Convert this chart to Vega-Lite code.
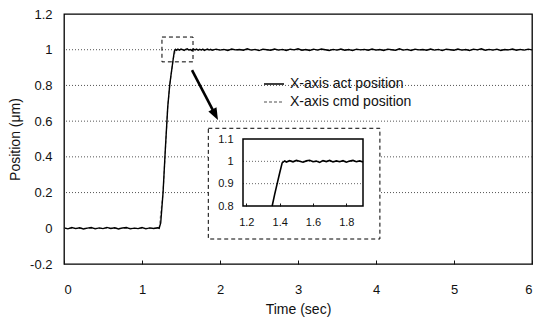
{
  "$schema": "https://vega.github.io/schema/vega-lite/v6.json",
  "width": 468,
  "height": 250,
  "autosize": {"type": "none"},
  "padding": {"left": 64, "top": 14, "right": 3, "bottom": 56},
  "background": "white",
  "config": {
    "font": "Liberation Sans",
    "view": {"stroke": "black", "strokeWidth": 1.3},
    "axis": {"domain": false, "labelColor": "#111", "titleColor": "#111", "titleFontWeight": "normal", "tickColor": "#111", "labelOverlap": false, "tickCount": 20}
  },
  "datasets": {
    "act": [
      {"t": 0, "pos": 0.002}, {"t": 0.05, "pos": -0.003}, {"t": 0.1, "pos": 0.004}, {"t": 0.15, "pos": -0.002},
      {"t": 0.2, "pos": 0.003}, {"t": 0.25, "pos": -0.004}, {"t": 0.3, "pos": 0.001}, {"t": 0.35, "pos": 0.004},
      {"t": 0.4, "pos": -0.003}, {"t": 0.45, "pos": 0.002}, {"t": 0.5, "pos": -0.002}, {"t": 0.55, "pos": 0.005},
      {"t": 0.6, "pos": -0.001}, {"t": 0.65, "pos": 0.003}, {"t": 0.7, "pos": -0.004}, {"t": 0.75, "pos": 0.002},
      {"t": 0.8, "pos": 0.004}, {"t": 0.85, "pos": -0.003}, {"t": 0.9, "pos": 0.001}, {"t": 0.95, "pos": -0.002},
      {"t": 1.0, "pos": 0.004}, {"t": 1.05, "pos": -0.003}, {"t": 1.1, "pos": 0.002}, {"t": 1.15, "pos": -0.001},
      {"t": 1.2, "pos": 0.003},
      {"t": 1.22, "pos": 0.0}, {"t": 1.24, "pos": 0.03}, {"t": 1.27, "pos": 0.2}, {"t": 1.3, "pos": 0.45},
      {"t": 1.33, "pos": 0.68}, {"t": 1.355, "pos": 0.8}, {"t": 1.37, "pos": 0.852}, {"t": 1.385, "pos": 0.9},
      {"t": 1.4, "pos": 0.948}, {"t": 1.415, "pos": 0.993}, {"t": 1.43, "pos": 1.002},
      {"t": 1.44, "pos": 0.997}, {"t": 1.46, "pos": 1.003}, {"t": 1.48, "pos": 0.998}, {"t": 1.5, "pos": 1.004},
      {"t": 1.52, "pos": 1.0}, {"t": 1.54, "pos": 0.996}, {"t": 1.56, "pos": 1.002}, {"t": 1.58, "pos": 1.005},
      {"t": 1.6, "pos": 0.998}, {"t": 1.62, "pos": 1.001}, {"t": 1.64, "pos": 0.995}, {"t": 1.66, "pos": 1.003},
      {"t": 1.68, "pos": 0.999}, {"t": 1.7, "pos": 1.004}, {"t": 1.72, "pos": 0.997}, {"t": 1.74, "pos": 1.002},
      {"t": 1.76, "pos": 0.998}, {"t": 1.78, "pos": 1.003}, {"t": 1.8, "pos": 0.996}, {"t": 1.82, "pos": 1.001},
      {"t": 1.84, "pos": 1.004}, {"t": 1.86, "pos": 0.998}, {"t": 1.88, "pos": 1.002}, {"t": 1.9, "pos": 0.997},
      {"t": 1.95, "pos": 1.003}, {"t": 2.0, "pos": 0.998}, {"t": 2.05, "pos": 1.002}, {"t": 2.1, "pos": 0.996},
      {"t": 2.15, "pos": 1.004}, {"t": 2.2, "pos": 0.999}, {"t": 2.25, "pos": 1.001}, {"t": 2.3, "pos": 0.997},
      {"t": 2.35, "pos": 1.005}, {"t": 2.4, "pos": 0.998}, {"t": 2.45, "pos": 1.002}, {"t": 2.5, "pos": 0.995},
      {"t": 2.55, "pos": 1.003}, {"t": 2.6, "pos": 1.0}, {"t": 2.65, "pos": 0.997}, {"t": 2.7, "pos": 1.004},
      {"t": 2.75, "pos": 0.998}, {"t": 2.8, "pos": 1.002}, {"t": 2.85, "pos": 0.996}, {"t": 2.9, "pos": 1.003},
      {"t": 2.95, "pos": 0.999}, {"t": 3.0, "pos": 1.005}, {"t": 3.05, "pos": 0.997}, {"t": 3.1, "pos": 1.001},
      {"t": 3.15, "pos": 0.996}, {"t": 3.2, "pos": 1.003}, {"t": 3.25, "pos": 0.998}, {"t": 3.3, "pos": 1.004},
      {"t": 3.35, "pos": 1.0}, {"t": 3.4, "pos": 0.996}, {"t": 3.45, "pos": 1.002}, {"t": 3.5, "pos": 0.998},
      {"t": 3.55, "pos": 1.004}, {"t": 3.6, "pos": 0.997}, {"t": 3.65, "pos": 1.001}, {"t": 3.7, "pos": 0.995},
      {"t": 3.75, "pos": 1.003}, {"t": 3.8, "pos": 0.999}, {"t": 3.85, "pos": 1.002}, {"t": 3.9, "pos": 0.997},
      {"t": 3.95, "pos": 1.004}, {"t": 4.0, "pos": 0.998}, {"t": 4.05, "pos": 1.001}, {"t": 4.1, "pos": 0.996},
      {"t": 4.15, "pos": 1.003}, {"t": 4.2, "pos": 1.0}, {"t": 4.25, "pos": 0.997}, {"t": 4.3, "pos": 1.005},
      {"t": 4.35, "pos": 0.998}, {"t": 4.4, "pos": 1.002}, {"t": 4.45, "pos": 0.996}, {"t": 4.5, "pos": 1.003},
      {"t": 4.55, "pos": 0.999}, {"t": 4.6, "pos": 1.001}, {"t": 4.65, "pos": 0.997}, {"t": 4.7, "pos": 1.004},
      {"t": 4.75, "pos": 0.998}, {"t": 4.8, "pos": 1.002}, {"t": 4.85, "pos": 0.995}, {"t": 4.9, "pos": 1.003},
      {"t": 4.95, "pos": 1.0}, {"t": 5.0, "pos": 0.997}, {"t": 5.05, "pos": 1.004}, {"t": 5.1, "pos": 0.998},
      {"t": 5.15, "pos": 1.001}, {"t": 5.2, "pos": 0.996}, {"t": 5.25, "pos": 1.003}, {"t": 5.3, "pos": 0.999},
      {"t": 5.35, "pos": 1.005}, {"t": 5.4, "pos": 0.997}, {"t": 5.45, "pos": 1.002}, {"t": 5.5, "pos": 0.998},
      {"t": 5.55, "pos": 1.003}, {"t": 5.6, "pos": 0.996}, {"t": 5.65, "pos": 1.001}, {"t": 5.7, "pos": 0.999},
      {"t": 5.75, "pos": 1.004}, {"t": 5.8, "pos": 0.997}, {"t": 5.85, "pos": 1.002}, {"t": 5.9, "pos": 0.998},
      {"t": 5.95, "pos": 1.003}, {"t": 6.0, "pos": 0.999}
    ],
    "cmd": [
      {"t": 0, "pos": 0}, {"t": 1.22, "pos": 0}, {"t": 1.27, "pos": 0.2}, {"t": 1.33, "pos": 0.68},
      {"t": 1.355, "pos": 0.8}, {"t": 1.4, "pos": 0.948}, {"t": 1.43, "pos": 1.0}, {"t": 6.0, "pos": 1.0}
    ],
    "mainGrid": [{"g": 0.2}, {"g": 0.4}, {"g": 0.6}, {"g": 0.8}, {"g": 1.0}],
    "insetGrid": [{"g": 0.9}, {"g": 1.0}],
    "one": [{}]
  },
  "layer": [
    {
      "layer": [
        {
          "data": {"name": "mainGrid"},
          "mark": {"type": "rule", "strokeDash": [1, 2], "color": "#555", "strokeWidth": 1},
          "encoding": {
            "y": {"field": "g", "type": "quantitative"}
          }
        },
        {
          "data": {"name": "cmd"},
          "mark": {"type": "line", "strokeWidth": 1.2, "strokeDash": [3, 2]},
          "encoding": {
            "x": {"field": "t", "type": "quantitative"},
            "y": {"field": "pos", "type": "quantitative"},
            "color": {"datum": "X-axis cmd position"}
          }
        },
        {
          "data": {"name": "act"},
          "mark": {"type": "line", "strokeWidth": 1.4},
          "encoding": {
            "x": {
              "field": "t", "type": "quantitative",
              "scale": {"domain": [0, 6], "nice": false, "zero": false},
              "axis": {
                "orient": "bottom", "title": "Time (sec)", "values": [0, 1, 2, 3, 4, 5, 6], "format": "d",
                "labelFontSize": 13, "titleFontSize": 14, "offset": -4, "tickSize": 4, "labelPadding": 19, "titlePadding": 6,
                "grid": false, "zindex": 1
              }
            },
            "y": {
              "field": "pos", "type": "quantitative",
              "scale": {"domain": [-0.2, 1.2], "nice": false, "zero": false},
              "axis": {
                "orient": "left", "title": "Position (μm)",
                "values": [-0.2, 0, 0.2, 0.4, 0.6, 0.8, 1, 1.2],
                "labelExpr": "toString(round(datum.value * 10) / 10)", "labelBound": false,
                "labelFontSize": 13, "titleFontSize": 14, "ticks": false, "labelPadding": 12, "titlePadding": 7,
                "grid": false
              }
            },
            "color": {
              "datum": "X-axis act position",
              "scale": {"domain": ["X-axis act position", "X-axis cmd position"], "range": ["#000000", "#8a8a8a"]},
              "legend": {
                "orient": "none", "legendX": 199, "legendY": 59, "title": null, "padding": 0,
                "symbolType": "stroke", "symbolSize": 400, "symbolStrokeWidth": 1.5,
                "labelFontSize": 14, "labelOffset": 5, "labelColor": "#111", "rowPadding": 0,
                "encode": {"symbols": {"update": {"strokeDash": {"signal": "datum.value === 'X-axis cmd position' ? [3, 2] : [1, 0]"}}}}
              }
            }
          }
        },
        {
          "data": {"name": "one"},
          "mark": {"type": "rect", "fill": "white", "stroke": "black", "strokeWidth": 1, "strokeDash": [4, 3]},
          "encoding": {
            "x": {"datum": 1.85, "type": "quantitative"}, "x2": {"datum": 4.05},
            "y": {"datum": 0.56, "type": "quantitative"}, "y2": {"datum": -0.06}
          }
        },
        {
          "data": {"name": "one"},
          "mark": {"type": "rect", "fillOpacity": 0, "stroke": "black", "strokeWidth": 1, "strokeDash": [4, 3]},
          "encoding": {
            "x": {"datum": 1.256, "type": "quantitative"}, "x2": {"datum": 1.654},
            "y": {"datum": 1.071, "type": "quantitative"}, "y2": {"datum": 0.932}
          }
        },
        {
          "data": {"name": "one"},
          "mark": {"type": "rule", "strokeWidth": 2.6, "color": "black"},
          "encoding": {
            "x": {"datum": 1.641, "type": "quantitative"}, "x2": {"datum": 1.927},
            "y": {"datum": 0.886, "type": "quantitative"}, "y2": {"datum": 0.646}
          }
        },
        {
          "data": {"name": "one"},
          "mark": {"type": "point", "shape": "M0,0L-0.38,-1L0.38,-1Z", "filled": true, "color": "black", "opacity": 1, "size": 576, "angle": 332.6},
          "encoding": {
            "x": {"datum": 1.974, "type": "quantitative"},
            "y": {"datum": 0.606, "type": "quantitative"}
          }
        }
      ]
    },
    {
      "layer": [
        {
          "data": {"name": "insetGrid"},
          "mark": {"type": "rule", "strokeDash": [1, 2], "color": "#666", "strokeWidth": 1},
          "encoding": {
            "x": {"datum": 1.18, "type": "quantitative"}, "x2": {"datum": 1.9},
            "y": {"field": "g", "type": "quantitative"}
          }
        },
        {
          "data": {"name": "one"},
          "mark": {"type": "rect", "fillOpacity": 0, "stroke": "black", "strokeWidth": 1.5},
          "encoding": {
            "x": {"datum": 1.18, "type": "quantitative"}, "x2": {"datum": 1.9},
            "y": {"datum": 0.8, "type": "quantitative"}, "y2": {"datum": 1.1}
          }
        },
        {
          "data": {"name": "act"},
          "transform": [{"filter": "datum.t >= 1.355 && datum.t <= 1.9"}],
          "mark": {"type": "line", "strokeWidth": 1.6, "color": "black"},
          "encoding": {
            "x": {
              "field": "t", "type": "quantitative",
              "scale": {"domain": [1.18, 1.9], "range": [179, 299], "nice": false, "zero": false},
              "axis": {
                "orient": "bottom", "offset": -61, "title": null, "values": [1.2, 1.4, 1.6, 1.8],
                "labelExpr": "toString(round(datum.value * 10) / 10)",
                "labelFontSize": 11, "tickSize": 3, "labelPadding": 10, "grid": false, "zindex": 1
              }
            },
            "y": {
              "field": "pos", "type": "quantitative",
              "scale": {"domain": [0.8, 1.1], "range": [192, 125], "nice": false, "zero": false},
              "axis": {
                "orient": "left", "offset": -179, "title": null, "values": [0.8, 0.9, 1, 1.1],
                "labelExpr": "toString(round(datum.value * 10) / 10)",
                "labelFontSize": 11, "ticks": false, "labelPadding": 10, "grid": false, "zindex": 1
              }
            }
          }
        }
      ]
    }
  ],
  "resolve": {
    "scale": {"x": "independent", "y": "independent"},
    "axis": {"x": "independent", "y": "independent"}
  }
}
